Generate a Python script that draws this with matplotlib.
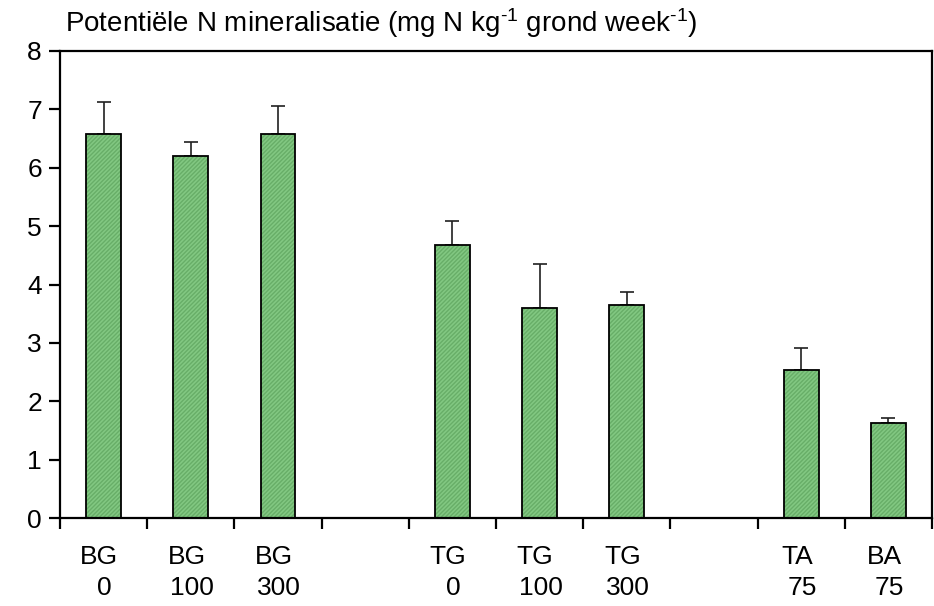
import numpy as np
import matplotlib.pyplot as plt

plt.rcParams['font.family'] = ['Liberation Sans', 'DejaVu Sans']
plt.rcParams['mathtext.fontset'] = 'custom'
plt.rcParams['mathtext.rm'] = 'Liberation Sans'
plt.rcParams['mathtext.default'] = 'regular'

# behandelingen (lege plekken tussen de groepen)
groups = ['BG', 'BG', 'BG', '', 'TG', 'TG', 'TG', '', 'TA', 'BA']
doses = ['0', '100', '300', '', '0', '100', '300', '', '75', '75']
mineralisatie = [6.58, 6.20, 6.58, None, 4.67, 3.59, 3.65, None, 2.53, 1.62]
fout = [0.55, 0.24, 0.48, None, 0.41, 0.76, 0.22, None, 0.38, 0.09]

fig = plt.figure(figsize=(9.34, 6.06), dpi=100)
ax = fig.add_axes([60 / 934, 88 / 606, 872 / 934, 467 / 606])

pos = [i for i, v in enumerate(mineralisatie) if v is not None]
vals = [mineralisatie[i] for i in pos]
errs = [fout[i] for i in pos]

# gevulde staven met fijne arcering, daarna zwarte rand
ax.bar(pos, vals, width=0.4, color='#82c882', edgecolor='#68ae68',
       hatch='////////', linewidth=0, zorder=2)
ax.bar(pos, vals, width=0.4, facecolor='none', edgecolor='black',
       linewidth=1.3, zorder=3)
ax.errorbar(pos, vals, yerr=[np.zeros(len(errs)), errs], fmt='none',
            ecolor='#202020', elinewidth=1.2, capsize=5, capthick=1.2,
            zorder=1)

ax.set_xlim(-0.5, 9.5)
ax.set_ylim(0, 8)
ax.set_yticks(range(0, 9))
ax.set_xticks(np.arange(-0.5, 10, 1))
ax.set_xticklabels([])
ax.tick_params(axis='both', direction='out', length=8, width=1.6,
               labelsize=19)
ax.tick_params(axis='y', pad=5)
for s in ax.spines.values():
    s.set_linewidth(1.6)

# twee regels onder elke staaf: groep en dosis
for i, (g, d) in enumerate(zip(groups, doses)):
    if g:
        ax.text(i - 0.05, -0.47, g, ha='center', va='top', fontsize=19)
        ax.text(i + 0.01, -1.0, d, ha='center', va='top', fontsize=19)

fig.text(65 / 934, 1 - 32 / 606,
         r'Potentiële N mineralisatie (mg N kg$^{\text{-1}}$ grond week$^{\text{-1}}$)',
         fontsize=20, va='baseline', ha='left')

fig.savefig('out.png', dpi=100)
